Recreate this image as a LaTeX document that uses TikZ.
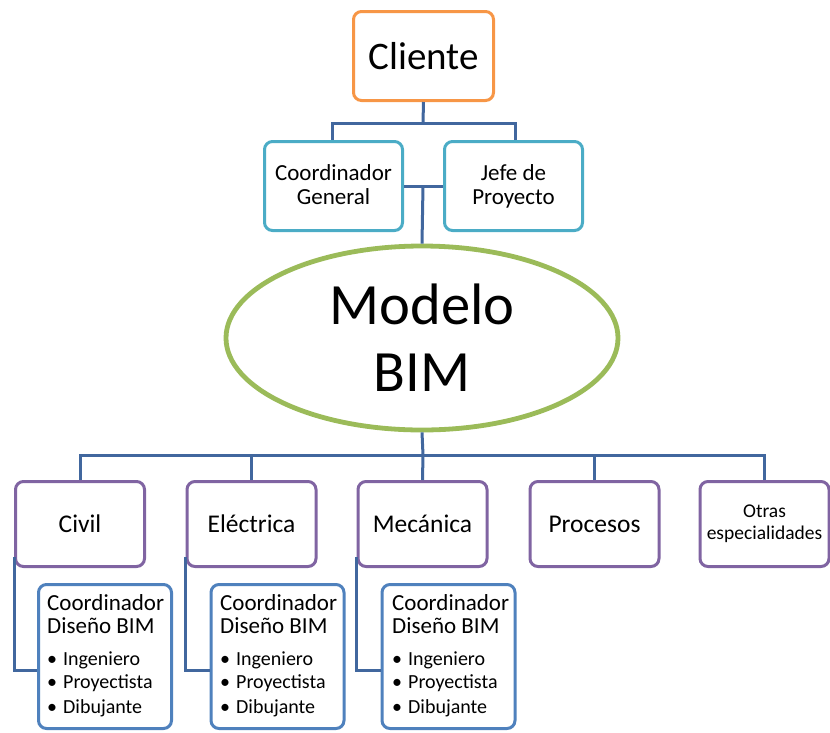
\documentclass[tikz,border=0pt]{standalone}
\usepackage{fontspec}
\setmainfont{Carlito}
\usetikzlibrary{shapes.geometric}
\definecolor{cOrange}{HTML}{F79646}
\definecolor{cAqua}{HTML}{4BACC6}
\definecolor{cGreen}{HTML}{9BBB59}
\definecolor{cPurple}{HTML}{8064A2}
\definecolor{cBlue}{HTML}{4F81BD}
\definecolor{cConn}{HTML}{41679E}
\tikzset{
  box/.style={draw, rectangle, rounded corners=8pt, line width=3pt, fill=white, inner sep=0pt, align=center},
  clientbox/.style={box, draw=cOrange, minimum width=140pt, minimum height=89pt, font=\fontsize{39}{42}\selectfont},
  leadbox/.style={box, draw=cAqua, minimum width=138pt, minimum height=89pt},
  leadtext/.style={anchor=base, inner sep=0pt, font=\fontsize{23}{24}\selectfont},
  specbox/.style={box, draw=cPurple, minimum width=129pt, minimum height=85pt, font=\fontsize{25.5}{27}\selectfont},
  subbox/.style={box, draw=cBlue, minimum width=133pt, minimum height=144pt},
  bim/.style={draw=cGreen, ellipse, line width=4.8pt, fill=white, minimum width=392pt, minimum height=184pt, inner sep=0pt, align=center, font=\fontsize{58.5}{67}\selectfont},
  conn/.style={draw=cConn, line width=3pt},
  subtitle/.style={anchor=base west, inner sep=0pt, font=\fontsize{23}{23}\selectfont},
  subitem/.style={anchor=base west, inner sep=0pt, font=\fontsize{20}{20}\selectfont},
}
\begin{document}
\begin{tikzpicture}[x=1pt,y=-1pt]
\useasboundingbox (0,0) rectangle (830,732);
\coordinate (t1) at (423,123);
\coordinate (m1) at (423,186);
\coordinate (b1) at (423,455);
\node[clientbox] (cli) at (423.5,56) {Cliente};
\node[leadbox] (cg) at (333.5,186) {};
\node[leadbox] (jp) at (513.5,186) {};
\node[leadtext] (cg1) at (333.5,180) {Coordinador};
\node[leadtext] (cg2) at (333.5,204) {General};
\node[leadtext] (jp1) at (513.5,180) {Jefe de};
\node[leadtext] (jp2) at (513.5,204) {Proyecto};
\node[bim] (bim) at (422,338) {Modelo\\BIM};
\node[specbox] (civ) at (80,524) {Civil};
\node[specbox] (ele) at (251.5,524) {Eléctrica};
\node[specbox] (mec) at (422.5,524) {Mecánica};
\node[specbox] (pro) at (594.5,524) {Procesos};
\node[specbox, font=\fontsize{19.5}{22}\selectfont] (otr) at (764.5,524) {Otras\\especialidades};
\node[subbox] (sc1) at (105,656.5) {};
\node[subbox] (sc2) at (277.5,656.5) {};
\node[subbox] (sc3) at (448.5,656.5) {};
% top connectors
\draw[conn] (cli.south) -- (t1);
\draw[conn] (t1) -| ([xshift=-1.5pt]cg.north);
\draw[conn] (t1) -| ([xshift=1.5pt]jp.north);
\draw[conn] (cg.east) -- (jp.west);
\draw[conn] (m1) -- (bim.north);
% bottom connectors
\draw[conn] (bim.south) -- (b1);
\draw[conn] (b1) -| (civ.north);
\draw[conn] (b1) -| (ele.north);
\draw[conn] (b1) -- (mec.north);
\draw[conn] (b1) -| (pro.north);
\draw[conn] (b1) -| (otr.north);
% sub connectors
\draw[conn] ([yshift=-33pt]civ.west) |- ([yshift=-13.5pt]sc1.west);
\draw[conn] ([yshift=-33pt]ele.west) |- ([yshift=-13.5pt]sc2.west);
\draw[conn] ([yshift=-33pt]mec.west) |- ([yshift=-13.5pt]sc3.west);
% sub box texts
\foreach \k/\L in {1/37,2/210,3/382}{
  \node[subtitle] (s\k a) at (\L+10,610) {Coordinador};
  \node[subtitle] (s\k b) at (\L+10,633) {Diseño BIM};
  \node[subitem] (s\k c) at (\L+10,665) {•\hspace{6pt}Ingeniero};
  \node[subitem] (s\k d) at (\L+10,688) {•\hspace{6pt}Proyectista};
  \node[subitem] (s\k e) at (\L+10,713) {•\hspace{6pt}Dibujante};
}
\end{tikzpicture}
\end{document}
